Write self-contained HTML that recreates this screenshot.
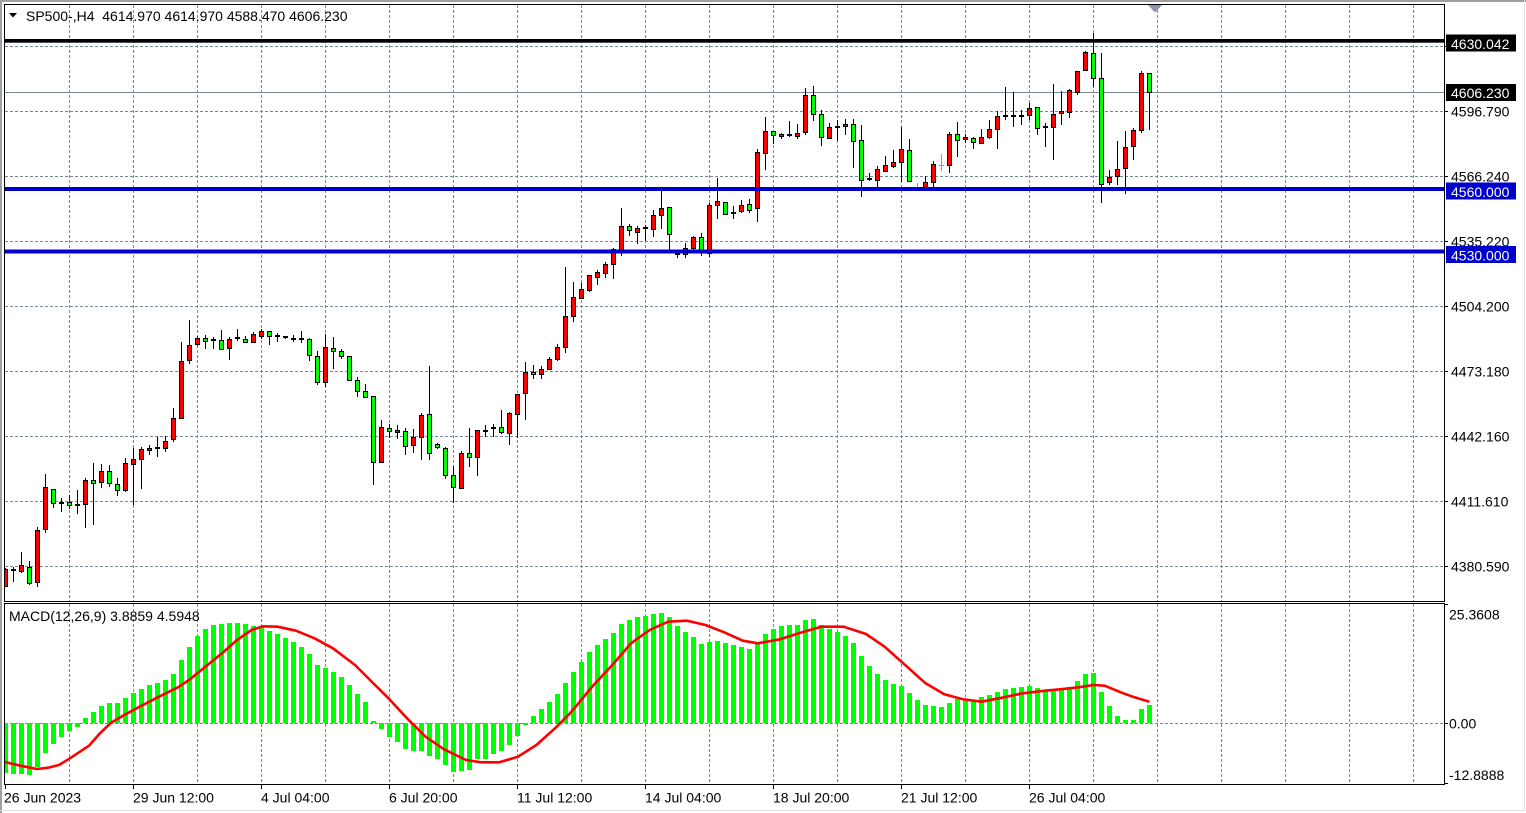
<!DOCTYPE html>
<html><head><meta charset="utf-8"><style>
html,body{margin:0;padding:0;background:#fff;}
svg{display:block;}
text{font-family:"Liberation Sans",sans-serif;font-size:14px;fill:#000;}
.r{fill:#ff0000;stroke:#000;stroke-width:1}
.g{fill:#00ff00;stroke:#000;stroke-width:1}
.d{fill:#000;stroke:#000;stroke-width:1}
</style></head><body>
<svg width="1526" height="813" viewBox="0 0 1526 813" xmlns="http://www.w3.org/2000/svg">
<defs>
<clipPath id="cm"><rect x="5" y="5" width="1439" height="596"/></clipPath>
<clipPath id="cd"><rect x="5" y="604" width="1439" height="180"/></clipPath>
</defs>
<rect x="0" y="0" width="1526" height="813" fill="#fff"/>
<path d="M1 813V1H1526" stroke="#a0a0a0" stroke-width="2" fill="none"/>
<path d="M1524.5 0V810.5H0" stroke="#e0e0e0" stroke-width="1" fill="none"/>

<g stroke="#778899" stroke-width="1" stroke-dasharray="3,2" fill="none">
<path d="M69.5 5V601M133.5 5V601M197.5 5V601M261.5 5V601M325.5 5V601M389.5 5V601M453.5 5V601M517.5 5V601M581.5 5V601M645.5 5V601M709.5 5V601M773.5 5V601M837.5 5V601M901.5 5V601M965.5 5V601M1029.5 5V601M1093.5 5V601M1157.5 5V601M1221.5 5V601M1285.5 5V601M1349.5 5V601M1413.5 5V601"/>
<path d="M5 46.5H1444M5 111.5H1444M5 176.5H1444M5 241.5H1444M5 306.5H1444M5 371.5H1444M5 436.5H1444M5 501.5H1444M5 566.5H1444"/>
<path d="M69.5 604V784M133.5 604V784M197.5 604V784M261.5 604V784M325.5 604V784M389.5 604V784M453.5 604V784M517.5 604V784M581.5 604V784M645.5 604V784M709.5 604V784M773.5 604V784M837.5 604V784M901.5 604V784M965.5 604V784M1029.5 604V784M1093.5 604V784M1157.5 604V784M1221.5 604V784M1285.5 604V784M1349.5 604V784M1413.5 604V784"/>
<path d="M5 723.5H1444"/>
</g>
<path d="M5 92.5H1444" stroke="#778899" stroke-width="1"/>

<g clip-path="url(#cm)">
<path stroke="#000" stroke-width="1" fill="none" d="M5.5 568V587M13.5 567V582M21.5 552V573M29.5 561V585M37.5 527V587M45.5 474V533M53.5 489V508M61.5 498V512M69.5 495V509M77.5 490V514M85.5 478V528M93.5 463V525M101.5 464V488M109.5 465V487M117.5 478V496M125.5 458V492M133.5 448V505M141.5 447V489M149.5 445V455M157.5 437V457M165.5 436V452M173.5 408V442M181.5 342V419M189.5 320V364M197.5 336V346M205.5 335V349M213.5 337V349M221.5 330V349M229.5 337V360M237.5 329V341M245.5 336V343M253.5 332V343M261.5 329V339M269.5 331V345M277.5 333V342M285.5 336V339M293.5 335V342M301.5 331V343M309.5 338V361M317.5 351V385M325.5 334V387M333.5 337V369M341.5 349V359M349.5 356V380M357.5 377V397M365.5 384V398M373.5 396V485M381.5 420V463M389.5 424V438M397.5 425V439M405.5 428V455M413.5 429V453M421.5 413V460M429.5 366V460M437.5 443V449M445.5 447V479M453.5 466V503M461.5 451V489M469.5 428V467M477.5 430V476M485.5 425V437M493.5 424V437M501.5 410V434M509.5 412V445M517.5 394V438M525.5 362V420M533.5 365V379M541.5 366V379M549.5 357V370M557.5 344V361M565.5 267V353M573.5 282V322M581.5 283V299M589.5 275V292M597.5 270V285M605.5 262V278M613.5 248V279M621.5 208V256M629.5 224V236M637.5 226V244M645.5 225V241M653.5 210V237M661.5 191V229M669.5 207V252M677.5 252V258M685.5 243V258M693.5 236V250M701.5 233V256M709.5 203V257M717.5 178V219M725.5 202V214M733.5 206V219M741.5 200V213M749.5 199V213M757.5 149V222M765.5 117V170M773.5 131V144M781.5 133V139M789.5 121V137M797.5 124V139M805.5 88V135M813.5 86V121M821.5 110V146M829.5 123V139M837.5 120V141M845.5 119V135M853.5 119V168M861.5 125V197M869.5 173V181M877.5 166V187M885.5 156V172M893.5 150V168M901.5 127V182M909.5 139V181M925.5 176V190M933.5 161V187M949.5 132V173M957.5 122V157M965.5 134V143M973.5 137V149M981.5 129V143M989.5 120V139M997.5 111V149M1005.5 87V120M1013.5 92V127M1021.5 110V125M1029.5 103V120M1037.5 107V135M1045.5 123V147M1053.5 84V160M1061.5 91V125M1069.5 89V118M1077.5 71V95M1085.5 51V70M1093.5 33V87M1101.5 53V203M1109.5 170V185M1117.5 141V185M1125.5 131V194M1133.5 128V160M1141.5 71V133M1149.5 73V130"/>
<path stroke="#00ff00" stroke-width="1" fill="none" d="M917.5 183V191M915 187.5H920M941.5 154V171M939 165.5H944"/>
<g>
<rect class="r" x="3.5" y="569.5" width="4" height="17"/>
<rect class="r" x="19.5" y="565.5" width="4" height="6"/>
<rect class="r" x="35.5" y="530.5" width="4" height="52"/>
<rect class="r" x="43.5" y="487.5" width="4" height="42"/>
<rect class="r" x="83.5" y="480.5" width="4" height="24"/>
<rect class="r" x="99.5" y="471.5" width="4" height="11"/>
<rect class="r" x="123.5" y="463.5" width="4" height="27"/>
<rect class="r" x="131.5" y="459.5" width="4" height="5"/>
<rect class="r" x="139.5" y="449.5" width="4" height="10"/>
<rect class="r" x="147.5" y="448.5" width="4" height="2"/>
<rect class="r" x="163.5" y="441.5" width="4" height="7"/>
<rect class="r" x="171.5" y="418.5" width="4" height="21"/>
<rect class="r" x="179.5" y="361.5" width="4" height="57"/>
<rect class="r" x="187.5" y="345.5" width="4" height="15"/>
<rect class="r" x="195.5" y="338.5" width="4" height="6"/>
<rect class="r" x="227.5" y="339.5" width="4" height="9"/>
<rect class="r" x="251.5" y="334.5" width="4" height="8"/>
<rect class="r" x="259.5" y="331.5" width="4" height="5"/>
<rect class="r" x="323.5" y="347.5" width="4" height="35"/>
<rect class="r" x="379.5" y="427.5" width="4" height="35"/>
<rect class="r" x="395.5" y="430.5" width="4" height="2"/>
<rect class="r" x="411.5" y="437.5" width="4" height="8"/>
<rect class="r" x="419.5" y="415.5" width="4" height="22"/>
<rect class="r" x="459.5" y="453.5" width="4" height="35"/>
<rect class="r" x="475.5" y="430.5" width="4" height="27"/>
<rect class="r" x="507.5" y="413.5" width="4" height="20"/>
<rect class="r" x="515.5" y="394.5" width="4" height="20"/>
<rect class="r" x="523.5" y="372.5" width="4" height="21"/>
<rect class="r" x="539.5" y="369.5" width="4" height="5"/>
<rect class="r" x="547.5" y="359.5" width="4" height="10"/>
<rect class="r" x="555.5" y="347.5" width="4" height="12"/>
<rect class="r" x="563.5" y="316.5" width="4" height="31"/>
<rect class="r" x="571.5" y="297.5" width="4" height="19"/>
<rect class="r" x="579.5" y="289.5" width="4" height="9"/>
<rect class="r" x="587.5" y="275.5" width="4" height="15"/>
<rect class="r" x="595.5" y="272.5" width="4" height="5"/>
<rect class="r" x="603.5" y="264.5" width="4" height="9"/>
<rect class="r" x="611.5" y="249.5" width="4" height="15"/>
<rect class="r" x="619.5" y="226.5" width="4" height="24"/>
<rect class="r" x="635.5" y="228.5" width="4" height="4"/>
<rect class="r" x="651.5" y="215.5" width="4" height="14"/>
<rect class="r" x="659.5" y="208.5" width="4" height="7"/>
<rect class="r" x="683.5" y="248.5" width="4" height="6"/>
<rect class="r" x="691.5" y="237.5" width="4" height="11"/>
<rect class="r" x="707.5" y="205.5" width="4" height="48"/>
<rect class="r" x="715.5" y="201.5" width="4" height="4"/>
<rect class="r" x="739.5" y="205.5" width="4" height="6"/>
<rect class="r" x="755.5" y="152.5" width="4" height="56"/>
<rect class="r" x="763.5" y="131.5" width="4" height="22"/>
<rect class="r" x="779.5" y="134.5" width="4" height="2"/>
<rect class="r" x="795.5" y="133.5" width="4" height="3"/>
<rect class="r" x="803.5" y="95.5" width="4" height="37"/>
<rect class="r" x="827.5" y="127.5" width="4" height="11"/>
<rect class="r" x="843.5" y="124.5" width="4" height="2"/>
<rect class="r" x="875.5" y="169.5" width="4" height="11"/>
<rect class="r" x="883.5" y="165.5" width="4" height="6"/>
<rect class="r" x="891.5" y="162.5" width="4" height="4"/>
<rect class="r" x="899.5" y="149.5" width="4" height="13"/>
<rect class="r" x="923.5" y="182.5" width="4" height="6"/>
<rect class="r" x="931.5" y="164.5" width="4" height="18"/>
<rect class="r" x="947.5" y="134.5" width="4" height="31"/>
<rect class="r" x="963.5" y="137.5" width="4" height="2"/>
<rect class="r" x="979.5" y="137.5" width="4" height="6"/>
<rect class="r" x="987.5" y="129.5" width="4" height="8"/>
<rect class="r" x="995.5" y="116.5" width="4" height="13"/>
<rect class="r" x="1027.5" y="108.5" width="4" height="7"/>
<rect class="r" x="1051.5" y="114.5" width="4" height="13"/>
<rect class="r" x="1059.5" y="111.5" width="4" height="2"/>
<rect class="r" x="1067.5" y="90.5" width="4" height="22"/>
<rect class="r" x="1075.5" y="71.5" width="4" height="21"/>
<rect class="r" x="1083.5" y="52.5" width="4" height="18"/>
<rect class="r" x="1107.5" y="177.5" width="4" height="5"/>
<rect class="r" x="1115.5" y="169.5" width="4" height="7"/>
<rect class="r" x="1123.5" y="147.5" width="4" height="21"/>
<rect class="r" x="1131.5" y="130.5" width="4" height="16"/>
<rect class="r" x="1139.5" y="73.5" width="4" height="57"/>
</g>
<g>
<rect class="g" x="27.5" y="567.5" width="4" height="16"/>
<rect class="g" x="51.5" y="489.5" width="4" height="14"/>
<rect class="g" x="67.5" y="502.5" width="4" height="3"/>
<rect class="g" x="91.5" y="480.5" width="4" height="3"/>
<rect class="g" x="107.5" y="471.5" width="4" height="12"/>
<rect class="g" x="115.5" y="484.5" width="4" height="6"/>
<rect class="g" x="203.5" y="338.5" width="4" height="3"/>
<rect class="g" x="219.5" y="340.5" width="4" height="9"/>
<rect class="g" x="243.5" y="339.5" width="4" height="3"/>
<rect class="g" x="267.5" y="331.5" width="4" height="5"/>
<rect class="g" x="307.5" y="339.5" width="4" height="16"/>
<rect class="g" x="315.5" y="356.5" width="4" height="26"/>
<rect class="g" x="331.5" y="348.5" width="4" height="3"/>
<rect class="g" x="339.5" y="351.5" width="4" height="5"/>
<rect class="g" x="347.5" y="356.5" width="4" height="24"/>
<rect class="g" x="355.5" y="380.5" width="4" height="11"/>
<rect class="g" x="363.5" y="391.5" width="4" height="6"/>
<rect class="g" x="371.5" y="396.5" width="4" height="66"/>
<rect class="g" x="387.5" y="428.5" width="4" height="3"/>
<rect class="g" x="403.5" y="431.5" width="4" height="15"/>
<rect class="g" x="427.5" y="414.5" width="4" height="39"/>
<rect class="g" x="435.5" y="444.5" width="4" height="3"/>
<rect class="g" x="443.5" y="448.5" width="4" height="27"/>
<rect class="g" x="451.5" y="475.5" width="4" height="12"/>
<rect class="g" x="467.5" y="453.5" width="4" height="4"/>
<rect class="g" x="499.5" y="427.5" width="4" height="5"/>
<rect class="g" x="531.5" y="372.5" width="4" height="2"/>
<rect class="g" x="627.5" y="226.5" width="4" height="4"/>
<rect class="g" x="667.5" y="207.5" width="4" height="27"/>
<rect class="g" x="699.5" y="237.5" width="4" height="13"/>
<rect class="g" x="723.5" y="202.5" width="4" height="12"/>
<rect class="g" x="747.5" y="204.5" width="4" height="6"/>
<rect class="g" x="771.5" y="131.5" width="4" height="4"/>
<rect class="g" x="811.5" y="95.5" width="4" height="19"/>
<rect class="g" x="819.5" y="114.5" width="4" height="23"/>
<rect class="g" x="851.5" y="124.5" width="4" height="17"/>
<rect class="g" x="859.5" y="140.5" width="4" height="40"/>
<rect class="g" x="907.5" y="150.5" width="4" height="31"/>
<rect class="g" x="955.5" y="134.5" width="4" height="6"/>
<rect class="g" x="971.5" y="138.5" width="4" height="4"/>
<rect class="g" x="1035.5" y="107.5" width="4" height="21"/>
<rect class="g" x="1091.5" y="53.5" width="4" height="25"/>
<rect class="g" x="1099.5" y="78.5" width="4" height="106"/>
<rect class="g" x="1147.5" y="73.5" width="4" height="19"/>
</g>
<g>
<rect class="d" x="11.5" y="569.5" width="4" height="1"/>
<rect class="d" x="59.5" y="502.5" width="4" height="1"/>
<rect class="d" x="75.5" y="504.5" width="4" height="1"/>
<rect class="d" x="155.5" y="447.5" width="4" height="1"/>
<rect class="d" x="211.5" y="339.5" width="4" height="1"/>
<rect class="d" x="235.5" y="337.5" width="4" height="1"/>
<rect class="d" x="275.5" y="335.5" width="4" height="1"/>
<rect class="d" x="283.5" y="336.5" width="4" height="1"/>
<rect class="d" x="291.5" y="338.5" width="4" height="1"/>
<rect class="d" x="299.5" y="338.5" width="4" height="1"/>
<rect class="d" x="483.5" y="430.5" width="4" height="1"/>
<rect class="d" x="491.5" y="427.5" width="4" height="1"/>
<rect class="d" x="643.5" y="227.5" width="4" height="1"/>
<rect class="d" x="675.5" y="253.5" width="4" height="1"/>
<rect class="d" x="731.5" y="212.5" width="4" height="1"/>
<rect class="d" x="787.5" y="134.5" width="4" height="1"/>
<rect class="d" x="835.5" y="126.5" width="4" height="1"/>
<rect class="d" x="867.5" y="178.5" width="4" height="1"/>
<rect class="d" x="1003.5" y="115.5" width="4" height="1"/>
<rect class="d" x="1011.5" y="115.5" width="4" height="1"/>
<rect class="d" x="1019.5" y="115.5" width="4" height="1"/>
<rect class="d" x="1043.5" y="126.5" width="4" height="1"/>
</g>
</g>

<rect x="5" y="39" width="1440" height="3.7" fill="#000"/>
<rect x="5" y="187" width="1440" height="4" fill="#0000cd"/>
<rect x="5" y="249.5" width="1440" height="4" fill="#0000cd"/>

<polygon points="1148,5 1162,5 1155,12.5" fill="#8796a8"/>

<g clip-path="url(#cd)">
<path fill="#00ff00" d="M3 723h5V773h-5zM11 723h5V774h-5zM19 723h5V774h-5zM27 723h5V775h-5zM35 723h5V767h-5zM43 723h5V753h-5zM51 723h5V744h-5zM59 723h5V737h-5zM67 723h5V731h-5zM75 723h5V727h-5zM83 723h5V718h-5zM91 723h5V712h-5zM99 723h5V706h-5zM107 723h5V703h-5zM115 723h5V703h-5zM123 723h5V698h-5zM131 723h5V693h-5zM139 723h5V689h-5zM147 723h5V685h-5zM155 723h5V683h-5zM163 723h5V680h-5zM171 723h5V674h-5zM179 723h5V660h-5zM187 723h5V647h-5zM195 723h5V636h-5zM203 723h5V629h-5zM211 723h5V625h-5zM219 723h5V624h-5zM227 723h5V623h-5zM235 723h5V623h-5zM243 723h5V624h-5zM251 723h5V626h-5zM259 723h5V627h-5zM267 723h5V631h-5zM275 723h5V634h-5zM283 723h5V638h-5zM291 723h5V642h-5zM299 723h5V647h-5zM307 723h5V654h-5zM315 723h5V665h-5zM323 723h5V668h-5zM331 723h5V672h-5zM339 723h5V677h-5zM347 723h5V685h-5zM355 723h5V694h-5zM363 723h5V702h-5zM371 723h5V721h-5zM379 723h5V729h-5zM387 723h5V737h-5zM395 723h5V742h-5zM403 723h5V749h-5zM411 723h5V751h-5zM419 723h5V751h-5zM427 723h5V756h-5zM435 723h5V759h-5zM443 723h5V765h-5zM451 723h5V772h-5zM459 723h5V771h-5zM467 723h5V770h-5zM475 723h5V759h-5zM483 723h5V759h-5zM491 723h5V754h-5zM499 723h5V751h-5zM507 723h5V745h-5zM515 723h5V736h-5zM523 723h5V725h-5zM531 723h5V716h-5zM539 723h5V709h-5zM547 723h5V702h-5zM555 723h5V694h-5zM563 723h5V683h-5zM571 723h5V672h-5zM579 723h5V662h-5zM587 723h5V652h-5zM595 723h5V645h-5zM603 723h5V639h-5zM611 723h5V633h-5zM619 723h5V624h-5zM627 723h5V620h-5zM635 723h5V617h-5zM643 723h5V616h-5zM651 723h5V614h-5zM659 723h5V613h-5zM667 723h5V617h-5zM675 723h5V626h-5zM683 723h5V632h-5zM691 723h5V637h-5zM699 723h5V644h-5zM707 723h5V642h-5zM715 723h5V641h-5zM723 723h5V643h-5zM731 723h5V645h-5zM739 723h5V647h-5zM747 723h5V649h-5zM755 723h5V644h-5zM763 723h5V634h-5zM771 723h5V629h-5zM779 723h5V626h-5zM787 723h5V625h-5zM795 723h5V625h-5zM803 723h5V620h-5zM811 723h5V619h-5zM819 723h5V625h-5zM827 723h5V629h-5zM835 723h5V632h-5zM843 723h5V636h-5zM851 723h5V643h-5zM859 723h5V656h-5zM867 723h5V666h-5zM875 723h5V674h-5zM883 723h5V680h-5zM891 723h5V684h-5zM899 723h5V686h-5zM907 723h5V693h-5zM915 723h5V700h-5zM923 723h5V705h-5zM931 723h5V706h-5zM939 723h5V707h-5zM947 723h5V703h-5zM955 723h5V699h-5zM963 723h5V701h-5zM971 723h5V702h-5zM979 723h5V697h-5zM987 723h5V695h-5zM995 723h5V692h-5zM1003 723h5V689h-5zM1011 723h5V688h-5zM1019 723h5V687h-5zM1027 723h5V686h-5zM1035 723h5V688h-5zM1043 723h5V690h-5zM1051 723h5V690h-5zM1059 723h5V690h-5zM1067 723h5V687h-5zM1075 723h5V681h-5zM1083 723h5V674h-5zM1091 723h5V673h-5zM1099 723h5V692h-5zM1107 723h5V706h-5zM1115 723h5V716h-5zM1123 723h5V720h-5zM1131 723h5V720h-5zM1139 723h5V709h-5zM1147 723h5V705h-5z"/>
<polyline fill="none" stroke="#ff0000" stroke-width="2.6" stroke-linejoin="round" points="5,762 18.5,765.3 37,769 48,767.7 59,765 70,758.3 89,745.7 100,733.3 111,722.7 126,714 141,706 159,696.7 178,687.3 189,680 203.5,668.3 222,653.3 237,640 251.6,630 262.7,626.3 277.5,626.7 296,630.7 314.5,638.3 333,648.3 355,665 370,680 388.5,698.3 407,718.3 425.5,736.7 444,749.3 466,760 481,762.3 499.4,762.3 518,756.7 536.4,745 555,728.3 570,713.3 575,707.5 593.6,685 612.3,665 631,643.3 649.6,630 668.2,621.7 686.9,620.7 705.5,625 724.2,632.3 742.8,640.7 757.8,643.3 780,639.3 798.8,633.3 821.2,626.7 843.6,626.7 866,634 884.6,646.7 903.2,663.3 925.6,683.3 944.3,694.3 962.9,699.3 981.6,701.7 1004,697.3 1022.6,693.3 1045,690.7 1060,689.3 1078.5,687.3 1093.5,685 1104.7,685.7 1123.3,693.3 1134.5,697.3 1149.4,701.7"/>
</g>

<g stroke="#000" stroke-width="1" fill="none">
<path d="M4.5 4.5H1444.5V601.5H4.5Z"/>
<path d="M4.5 603.5H1444.5V784.5H4.5Z"/>
<path d="M1444 111.5h4M1444 176.5h4M1444 241.5h4M1444 306.5h4M1444 371.5h4M1444 436.5h4M1444 501.5h4M1444 566.5h4M1444 46.5h4"/>
<path d="M1444 604.5h4M1444 723.5h4M1444 783.5h4"/>
<path d="M5.5 784V789M133.5 784V789M261.5 784V789M389.5 784V789M517.5 784V789M645.5 784V789M773.5 784V789M901.5 784V789M1029.5 784V789"/>
</g>

<polygon points="9,13 17,13 13,17.5" fill="#000"/>
<text x="26" y="21">SP500-,H4&#160; 4614.970 4614.970 4588.470 4606.230</text>
<text x="9" y="621">MACD(12,26,9) 3.8859 4.5948</text>

<text x="1451" y="116.7">4596.790</text>
<text x="1451" y="181.7">4566.240</text>
<text x="1451" y="246.7">4535.220</text>
<text x="1451" y="311.7">4504.200</text>
<text x="1451" y="376.7">4473.180</text>
<text x="1451" y="441.7">4442.160</text>
<text x="1451" y="506.7">4411.610</text>
<text x="1451" y="571.7">4380.590</text>

<rect x="1446" y="34.5" width="70" height="17" fill="#000"/>
<text x="1451" y="49" style="fill:#fff">4630.042</text>
<rect x="1446" y="84" width="70" height="17" fill="#000"/>
<text x="1451" y="98" style="fill:#fff">4606.230</text>
<rect x="1446" y="182.5" width="70" height="17" fill="#0000cd"/>
<text x="1451" y="196.8" style="fill:#fff">4560.000</text>
<rect x="1446" y="246" width="70" height="17" fill="#0000cd"/>
<text x="1451" y="260.3" style="fill:#fff">4530.000</text>

<text x="1449" y="619.3">25.3608</text>
<text x="1449" y="728.5">0.00</text>
<text x="1449" y="780">-12.8888</text>

<text x="4" y="802.3">26 Jun 2023</text>
<text x="133" y="802.3">29 Jun 12:00</text>
<text x="261" y="802.3">4 Jul 04:00</text>
<text x="389" y="802.3">6 Jul 20:00</text>
<text x="517" y="802.3">11 Jul 12:00</text>
<text x="645" y="802.3">14 Jul 04:00</text>
<text x="773" y="802.3">18 Jul 20:00</text>
<text x="901" y="802.3">21 Jul 12:00</text>
<text x="1029" y="802.3">26 Jul 04:00</text>
</svg>
</body></html>
